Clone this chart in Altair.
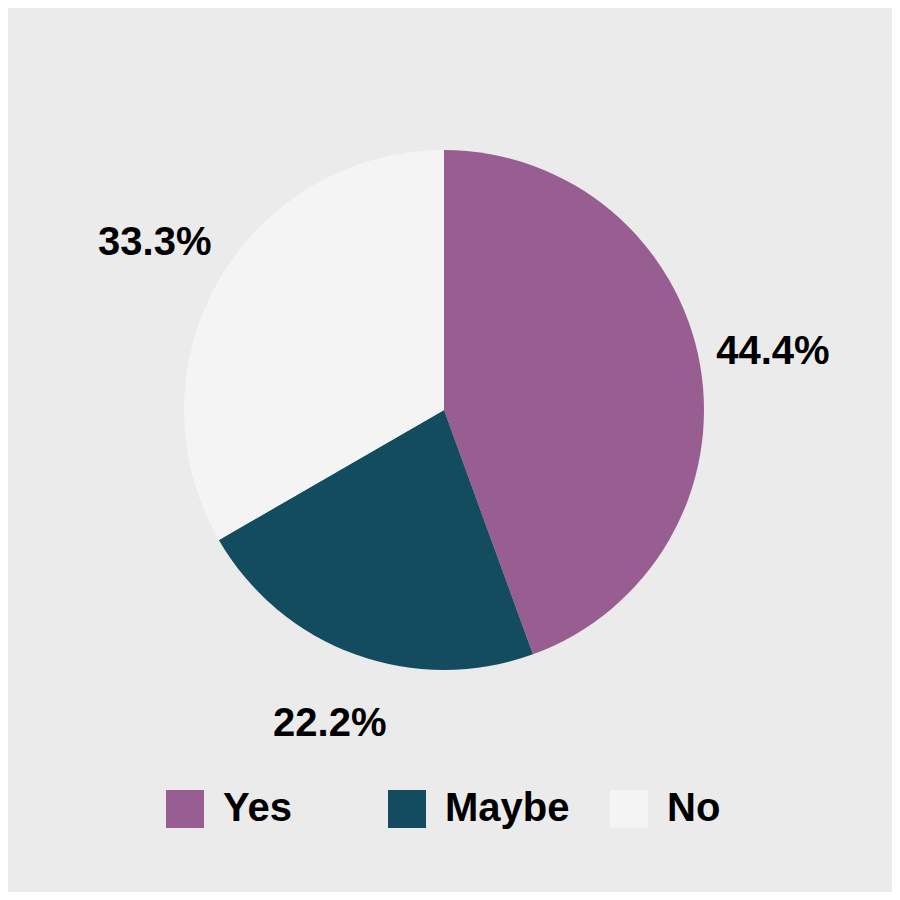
import altair as alt
import pandas as pd

categories = ["Yes", "Maybe", "No"]
counts = [4, 2, 3]
labels = ["44.4%", "22.2%", "33.3%"]
colors = ["#985e92", "#124c5e", "#f4f4f4"]

df = pd.DataFrame({"answer": categories, "count": counts, "label": labels, "order": [0, 1, 2]})

FONT = "Liberation Sans"

base = alt.Chart(df).encode(
    theta=alt.Theta("count:Q", stack=True),
    order=alt.Order("order:Q"),
)

pie = base.mark_arc(outerRadius=260, stroke=None).encode(
    x=alt.value(436),
    y=alt.value(402),
    color=alt.Color(
        "answer:N",
        scale=alt.Scale(domain=categories, range=colors),
        legend=alt.Legend(
            title=None,
            orient="none",
            legendX=157,
            legendY=781,
            direction="horizontal",
            symbolType="square",
            symbolSize=1444,
            symbolStrokeWidth=0,
            labelFont=FONT,
            labelFontWeight="bold",
            labelFontSize=40,
            labelColor="#000000",
            labelOffset=18,
            columnPadding=39,
            gridAlign="all",
            padding=0,
        ),
    ),
)

text = base.mark_text(
    radius=334, font=FONT, fontWeight="bold", fontSize=40, color="#000000",
    align="center", baseline="middle"
).encode(
    x=alt.value(436),
    y=alt.value(402),
    text="label:N",
)

chart = (pie + text).properties(
    width=884, height=884, background="#ebebeb", padding=0,
    autosize=alt.AutoSizeParams(type="none"),
).configure_view(stroke=None)

chart.save("out.html", embed_options={"renderer": "svg", "actions": False})
